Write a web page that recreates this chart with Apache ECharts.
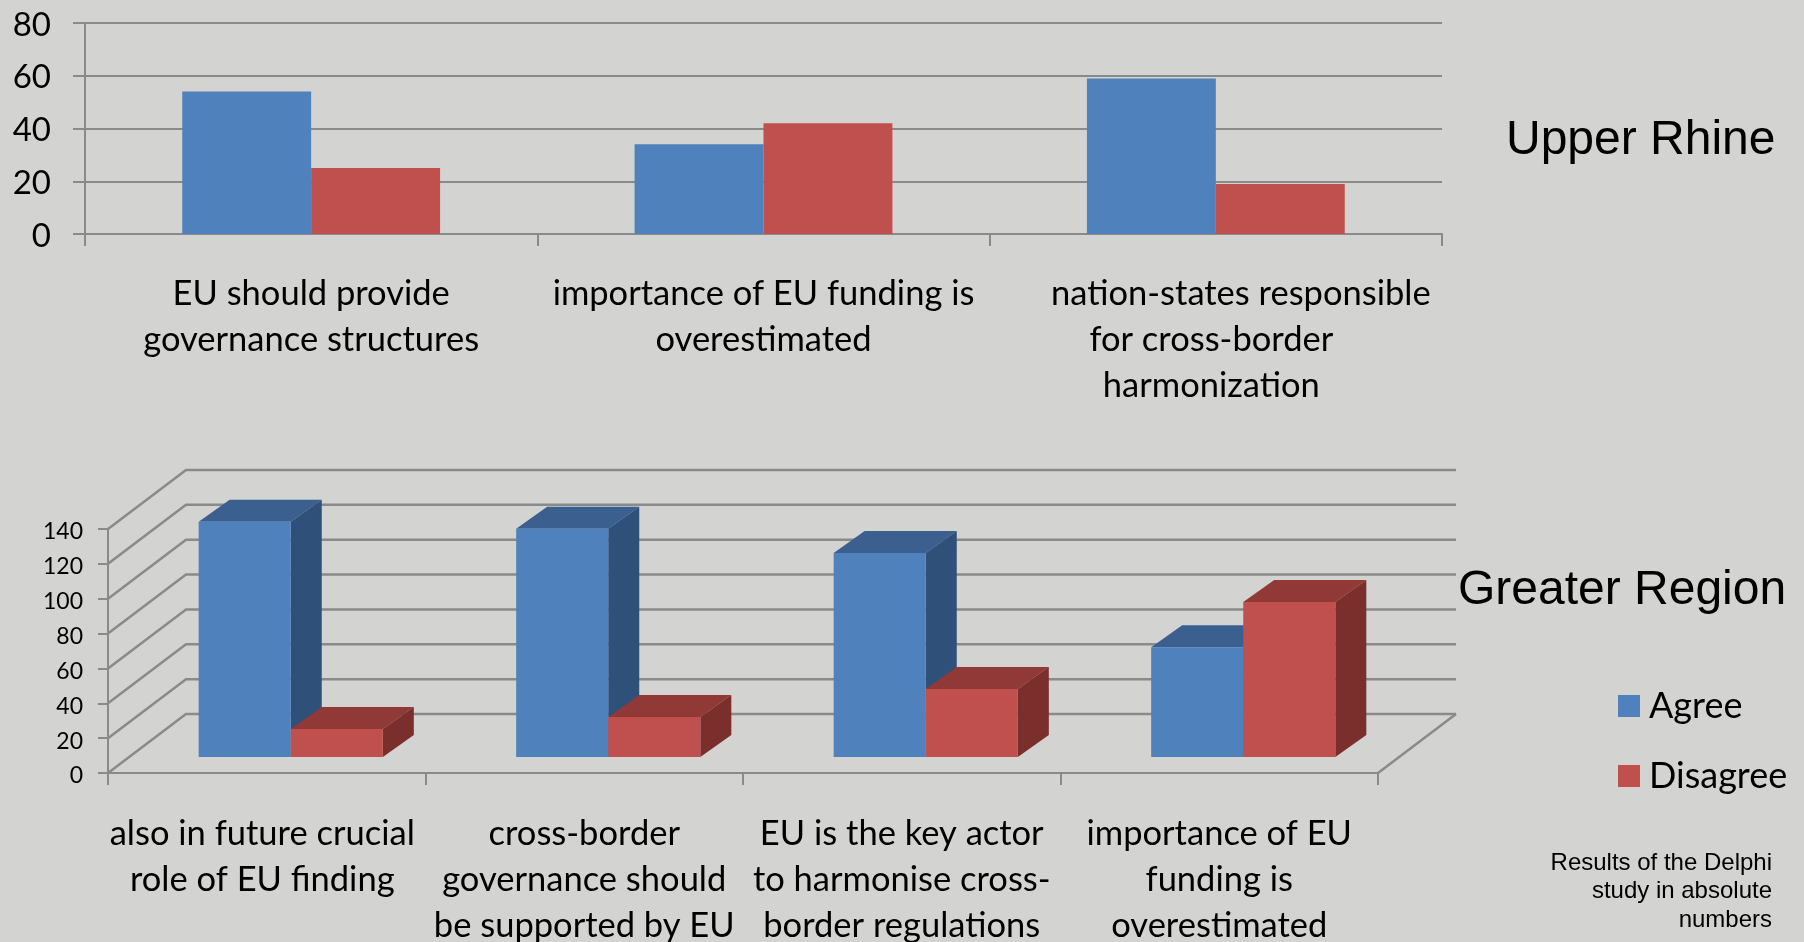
<!DOCTYPE html>
<html>
<head>
<meta charset="utf-8">
<style>html,body{margin:0;padding:0;background:#D3D3D1}#c{width:1804px;height:942px}</style>
<script src="https://cdn.jsdelivr.net/npm/echarts@6/dist/echarts.min.js"></script>
</head>
<body>
<div id="c"></div>
<script>
const seriesNames = ['Agree', 'Disagree'];
const rhineCategories = ['EU should provide\ngovernance structures', 'importance of EU funding is\noverestimated', 'nation-states responsible\nfor cross-border\nharmonization'];
const rhineAgree = [54, 34, 59];
const rhineDisagree = [25, 42, 19];
const regionCategories = ['also in future crucial\nrole of EU finding', 'cross-border\ngovernance should\nbe supported by EU', 'EU is the key actor\nto harmonise cross-\nborder regulations', 'importance of EU\nfunding is\noverestimated'];
const regionAgree = [135, 131, 117, 63];
const regionDisagree = [16, 23, 39, 89];
const regionTicks = [0, 20, 40, 60, 80, 100, 120, 140];
const noteText = 'Results of the Delphi\nstudy in absolute\nnumbers';

const AXIS = '#8A8A8A', BG = '#D3D3D1';
const BLUE = {front: '#4F81BD', top: '#3B5F8E', side: '#2F5079'};
const RED = {front: '#C0504D', top: '#903937', side: '#7A2F2D'};
const WALL = {dx: 78, dy: -59};
const BAR = {dx: 24, dy: -16, ddx: 31, ddy: -22, ratio: 0.29};
const labelFont = 'Lato, "Open Sans", sans-serif';
const titleFont = '"Liberation Sans", Arial, sans-serif';
const LABEL_SIZE = 34.5;

function wallItem(params, api) {
  const cs = params.coordSys;
  const y = api.coord([0, api.value(1)])[1];
  const x0 = cs.x, x1 = cs.x + cs.width;
  const style = {stroke: AXIS, lineWidth: 2.5, fill: null};
  const children = [{
    type: 'polyline',
    shape: {points: [[x0, y], [x0 + WALL.dx, y + WALL.dy], [x1 + WALL.dx, y + WALL.dy]]},
    style
  }];
  if (api.value(1) === 0) {
    children.push({type: 'line', shape: {x1, y1: y, x2: x1 + WALL.dx, y2: y + WALL.dy}, style});
  }
  return {type: 'group', children};
}

function barRenderer(pos, pal) {
  return function (params, api) {
    const i = api.value(0);
    const centre = api.coord([i, 0])[0];
    const w = api.size([1, 0])[0] * BAR.ratio;
    const x0 = centre + (pos - 1) * w + BAR.dx;
    const x1 = x0 + w;
    const base = api.coord([i, 0])[1] + BAR.dy;
    const top = api.coord([i, api.value(1)])[1] + BAR.dy;
    const dx = BAR.ddx, dy = BAR.ddy;
    return {type: 'group', children: [
      {type: 'polygon', shape: {points: [[x0, top], [x1, top], [x1 + dx, top + dy], [x0 + dx, top + dy]]}, style: {fill: pal.top}},
      {type: 'polygon', shape: {points: [[x1, top], [x1 + dx, top + dy], [x1 + dx, base + dy], [x1, base]]}, style: {fill: pal.side}},
      {type: 'rect', shape: {x: x0, y: top, width: w, height: base - top}, style: {fill: pal.front}}
    ]};
  };
}

const richBase = {fontSize: LABEL_SIZE, lineHeight: 46, color: '#000', fontFamily: labelFont};
const tickStyle = {color: AXIS, width: 2};

const option = {
  backgroundColor: BG,
  animation: false,
  textStyle: {fontFamily: labelFont},
  title: [
    {text: 'Upper Rhine', left: 1501, top: 112, textStyle: {fontFamily: titleFont, fontSize: 48, fontWeight: 'normal', color: '#000'}},
    {text: 'Greater Region', left: 1453, top: 562, textStyle: {fontFamily: titleFont, fontSize: 48, fontWeight: 'normal', color: '#000'}},
    {text: noteText, left: 1767, top: 844, textAlign: 'right', textStyle: {fontFamily: titleFont, fontSize: 24, lineHeight: 28.5, fontWeight: 'normal', color: '#000'}}
  ],
  legend: {
    data: seriesNames, orient: 'vertical', left: 1618, top: 688, padding: 0, icon: 'rect', itemWidth: 22, itemHeight: 22, itemGap: 34,
    selectedMode: false,
    textStyle: {fontFamily: labelFont, fontSize: 36, color: '#000', padding: [0, 0, 0, 4]}
  },
  grid: [
    {left: 85, top: 23, width: 1357, height: 211, outerBoundsMode: 'none'},
    {left: 108, top: 529, width: 1270, height: 244, outerBoundsMode: 'none'}
  ],
  xAxis: [
    {type: 'category', gridIndex: 0, data: rhineCategories,
      axisLine: {lineStyle: tickStyle}, axisTick: {show: true, length: 12, alignWithLabel: false, lineStyle: tickStyle},
      axisLabel: {interval: 0, margin: 37, fontSize: LABEL_SIZE, lineHeight: 46, color: '#000', fontFamily: labelFont,
        formatter: (v) => {
          if (v.indexOf('nation-states') !== 0) return v;
          const p = v.split('\n');
          return '{a|' + p[0] + '}\n{b|' + p[1] + '}\n{b|' + p[2] + '}';
        },
        rich: {a: Object.assign({padding: [0, 0, 0, 50]}, richBase),
               b: Object.assign({padding: [0, 9, 0, 0]}, richBase)}
      }},
    {type: 'category', gridIndex: 1, data: regionCategories,
      axisLine: {lineStyle: tickStyle}, axisTick: {show: true, length: 12, alignWithLabel: false, lineStyle: tickStyle},
      axisLabel: {interval: 0, margin: 38, fontSize: LABEL_SIZE, lineHeight: 46, color: '#000', fontFamily: labelFont,
        formatter: (v) => {
          if (v.indexOf('also in') !== 0) return v;
          return v.split('\n').map(s => '{b|' + s + '}').join('\n');
        },
        rich: {b: Object.assign({padding: [0, 9, 0, 0]}, richBase)}
      }}
  ],
  yAxis: [
    {type: 'value', gridIndex: 0, min: 0, max: 80, interval: 20,
      axisLine: {show: true, lineStyle: tickStyle}, axisTick: {show: true, length: 12, lineStyle: tickStyle},
      splitLine: {show: true, lineStyle: tickStyle},
      axisLabel: {margin: 34, fontSize: 33, color: '#000', fontFamily: labelFont, formatter: '{v|{value}}',
        rich: {v: {fontSize: 33, color: '#000', fontFamily: labelFont, padding: [4, 0, 0, 0]}}}},
    {type: 'value', gridIndex: 1, min: 0, max: 140, interval: 20,
      axisLine: {show: true, lineStyle: tickStyle}, axisTick: {show: true, length: 10, lineStyle: tickStyle},
      splitLine: {show: false},
      axisLabel: {margin: 25, fontSize: 23, color: '#000', fontFamily: labelFont, formatter: '{v|{value}}',
        rich: {v: {fontSize: 23, color: '#000', fontFamily: labelFont, padding: [6, 0, 0, 0]}}}}
  ],
  series: [
    {name: 'Agree', type: 'bar', xAxisIndex: 0, yAxisIndex: 0, data: rhineAgree, barGap: 0, barCategoryGap: '43%', itemStyle: {color: BLUE.front}},
    {name: 'Disagree', type: 'bar', xAxisIndex: 0, yAxisIndex: 0, data: rhineDisagree, barGap: 0, barCategoryGap: '43%', itemStyle: {color: RED.front}},
    {name: 'wall', type: 'custom', xAxisIndex: 1, yAxisIndex: 1, clip: false, silent: true, renderItem: wallItem,
      encode: {x: 0, y: 1}, data: regionTicks.map(v => [0, v]), z: 1},
    {name: 'Agree', type: 'custom', xAxisIndex: 1, yAxisIndex: 1, clip: false, renderItem: barRenderer(0, BLUE),
      encode: {x: 0, y: 1}, data: regionAgree.map((v, i) => [i, v]), itemStyle: {color: BLUE.front}, z: 2},
    {name: 'Disagree', type: 'custom', xAxisIndex: 1, yAxisIndex: 1, clip: false, renderItem: barRenderer(1, RED),
      encode: {x: 0, y: 1}, data: regionDisagree.map((v, i) => [i, v]), itemStyle: {color: RED.front}, z: 3}
  ]
};
echarts.init(document.getElementById('c')).setOption(option);
</script>
</body>
</html>
